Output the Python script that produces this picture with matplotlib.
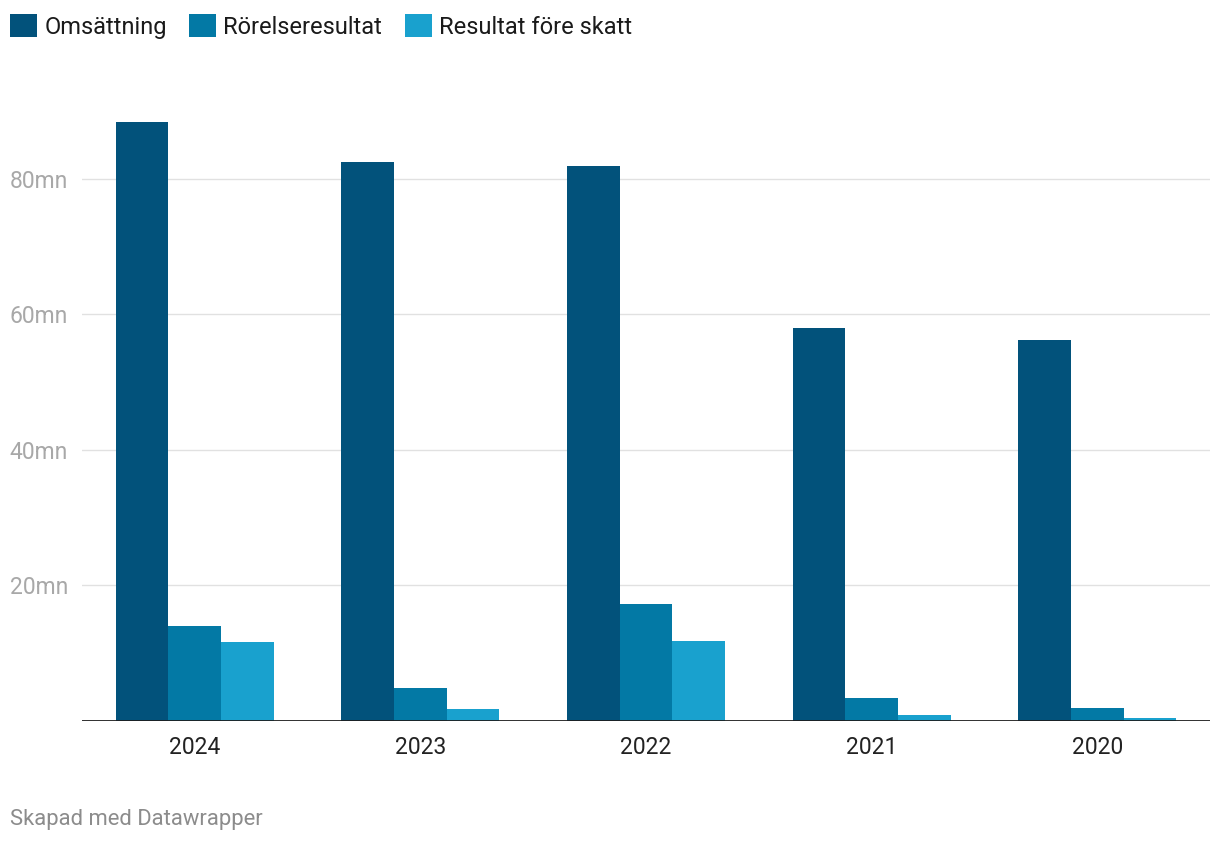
import numpy as np
import matplotlib.pyplot as plt
from matplotlib.patches import Patch

plt.rcParams['font.family'] = ['Roboto', 'DejaVu Sans']

# Data (miljoner kr)
years = ['2024', '2023', '2022', '2021', '2020']
omsattning = [88.4, 82.4, 81.9, 57.9, 56.2]
rorelseresultat = [14.0, 4.9, 17.3, 3.4, 1.9]
resultat_fore_skatt = [11.7, 1.8, 11.8, 0.9, 0.4]
series_names = ['Omsättning', 'Rörelseresultat', 'Resultat före skatt']
colors = ['#02527b', '#0379a5', '#19a1ce']

fig = plt.figure(figsize=(12.2, 8.44), dpi=100)
ax = fig.add_axes([82 / 1220, 123 / 844, 1128 / 1220, (721 - 77) / 844])

x = np.arange(len(years))
w = 0.2336
for i, (vals, c) in enumerate(zip([omsattning, rorelseresultat, resultat_fore_skatt], colors)):
    ax.bar(x + (i - 1) * w, vals, width=w, color=c, linewidth=0, zorder=3)

ax.set_xlim(-0.5, len(years) - 0.5)
ax.set_ylim(0, 95)
ax.set_yticks([20, 40, 60, 80])
ax.set_yticklabels(['20mn', '40mn', '60mn', '80mn'])
ax.grid(axis='y', color='#e1e1e1', linewidth=1, zorder=0)
ax.axhline(0, color='#1d1d1d', linewidth=2, zorder=4)

for s in ax.spines.values():
    s.set_visible(False)
ax.tick_params(axis='y', length=0, pad=10, labelsize=16.5, labelcolor='#a8a8a8')
ax.tick_params(axis='x', length=0, pad=11, labelsize=16.5, labelcolor='#222222')
ax.set_xticks(x)
ax.set_xticklabels(years)

handles = [Patch(facecolor=c, edgecolor='none') for c in colors]
fig.legend(handles, series_names, loc='upper left', bbox_to_anchor=(10 / 1220, 1 - 14 / 844),
           ncol=3, frameon=False, fontsize=17, handlelength=1.15, handleheight=1.15,
           handletextpad=0.3, columnspacing=0.95, borderaxespad=0, borderpad=0,
           labelcolor='#1a1a1a')

fig.text(10 / 1220, 1 - 820 / 844, 'Skapad med Datawrapper', fontsize=15.8,
         color='#8c8c8c', va='center', ha='left')

fig.savefig('out.png', dpi=100, facecolor='white')
